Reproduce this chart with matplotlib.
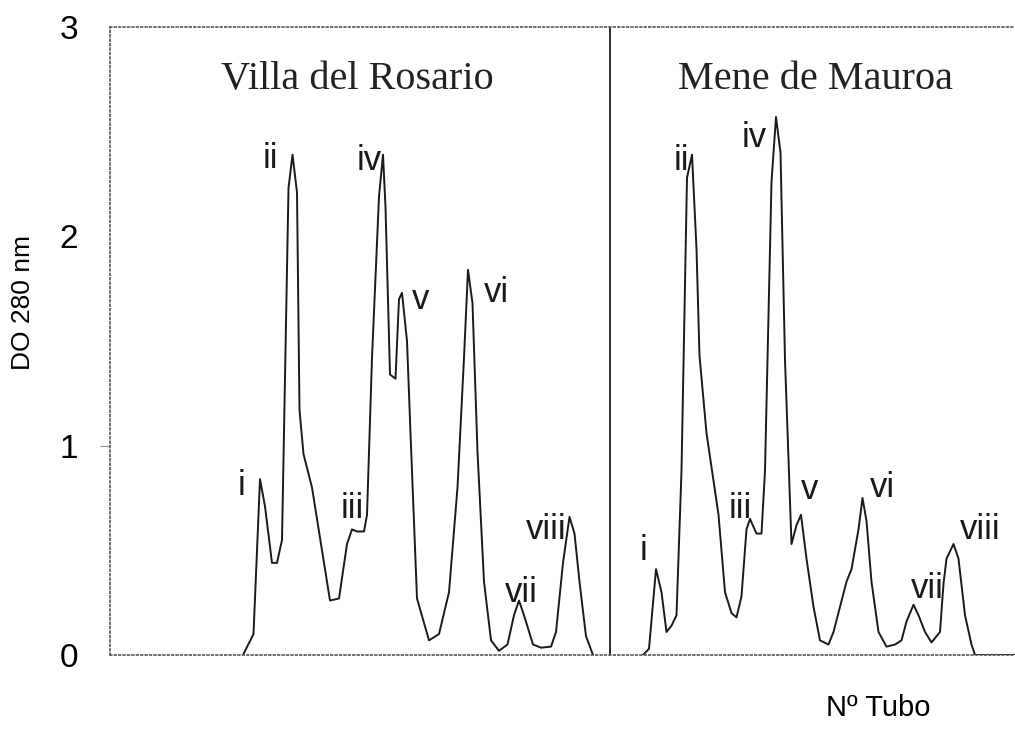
import matplotlib.pyplot as plt

# Nº de tubo (eje x) y DO 280 nm, Villa del Rosario
x_vr = [26.6, 28.7, 30, 31, 32.4, 33.4, 34.4, 35.7, 36.5, 37.4, 37.9, 38.7, 40.4,
        44, 45.8, 47.4, 48.4, 49.4, 50.8, 51.4, 52.4, 53.8, 54.6, 55.1, 56, 57.1,
        57.8, 58.4, 59.4, 60.1, 61.4, 63.8, 65.8, 67.8, 69.5, 70.8, 71.6, 72.5,
        73.5, 74.8, 76.2, 77.8, 79.5, 80.8, 81.8, 82.8, 84.6, 86.2, 88.2, 89.2,
        90.6, 91.9, 92.9, 93.9, 95.2, 96.6]
y_vr = [0, 0.10, 0.84, 0.71, 0.44, 0.44, 0.55, 2.23, 2.39, 2.21, 1.17, 0.96, 0.80,
        0.26, 0.27, 0.53, 0.60, 0.59, 0.59, 0.67, 1.42, 2.19, 2.39, 2.14, 1.34, 1.32,
        1.70, 1.73, 1.50, 1.06, 0.27, 0.07, 0.10, 0.30, 0.80, 1.42, 1.84, 1.68,
        0.97, 0.35, 0.07, 0.02, 0.05, 0.19, 0.26, 0.19, 0.05, 0.035, 0.04, 0.11,
        0.44, 0.66, 0.58, 0.35, 0.09, 0]

# Mene de Mauroa
x_mm = [106.6, 107.8, 109.2, 110.3, 111.3, 112.3, 113.3, 114.3, 115.4, 116.4,
        117.3, 117.9, 119.3, 121.7, 123, 124.3, 125.3, 126.3, 127.3, 128, 129.3,
        130.3, 131, 132.3, 133.2, 134.1, 135, 136.3, 137.3, 138.2, 139.3, 140.7,
        142, 143.7, 144.7, 146, 147.3, 148.3, 149.7, 150.5, 151.3, 152.3, 153.7,
        155.3, 157, 158.3, 159.3, 160.7, 161.7, 163, 164.3, 166, 166.7, 167.3,
        168.7, 169.7, 171, 172.3, 173, 181]
y_mm = [0, 0.03, 0.41, 0.30, 0.11, 0.14, 0.19, 0.88, 2.28, 2.39, 1.94, 1.43, 1.06,
        0.67, 0.30, 0.20, 0.18, 0.28, 0.60, 0.65, 0.58, 0.58, 0.88, 2.26, 2.57,
        2.40, 1.41, 0.53, 0.62, 0.67, 0.46, 0.23, 0.07, 0.05, 0.11, 0.23, 0.35,
        0.41, 0.60, 0.75, 0.64, 0.35, 0.11, 0.04, 0.05, 0.07, 0.16, 0.24, 0.19,
        0.11, 0.06, 0.11, 0.34, 0.46, 0.53, 0.46, 0.19, 0.05, 0, 0]

pico = ['i', 'ii', 'iii', 'iv', 'v', 'vi', 'vii', 'viii']
lab_x_vr = [26.4, 32, 48.4, 51.8, 62.2, 77.2, 82.2, 87.2]
lab_y_vr = [0.81, 2.37, 0.70, 2.36, 1.70, 1.73, 0.30, 0.60]
lab_x_mm = [106.6, 114.2, 126, 128.8, 140, 154.4, 163.4, 174]
lab_y_mm = [0.50, 2.36, 0.70, 2.47, 0.79, 0.80, 0.32, 0.60]

fig = plt.figure(figsize=(10.15, 7.39), dpi=100)
ax = fig.add_axes([110 / 1015, 1 - 655 / 739, 1 - 110 / 1015, (655 - 27) / 739])

ax.plot(x_vr, y_vr, color='#1a1a1a', lw=1.4)
ax.plot(x_mm, y_mm, color='#1a1a1a', lw=1.4)
ax.axvline(100, color='#1a1a1a', lw=1.3)

for t, xx, yy in zip(pico, lab_x_vr, lab_y_vr):
    ax.text(xx, yy, t, fontsize=25, family='Liberation Sans', ha='center', va='center',
            color='#1a1a1a')
for t, xx, yy in zip(pico, lab_x_mm, lab_y_mm):
    ax.text(xx, yy, t, fontsize=25, family='Liberation Sans', ha='center', va='center',
            color='#1a1a1a')

ax.text(49.5, 2.75, 'Villa del Rosario', fontsize=29, family='Liberation Serif',
        ha='center', va='center', color='#222222')
ax.text(141, 2.75, 'Mene de Mauroa', fontsize=29, family='Liberation Serif',
        ha='center', va='center', color='#222222')

ax.set_xlim(0, 181)
ax.set_ylim(0, 3)
ax.set_yticks([0, 1, 2, 3])
ax.set_yticklabels(['0', '1', '2', '3'], fontsize=24, family='Liberation Sans')
ax.set_xticks([])
ax.tick_params(axis='y', length=7, color='#b08080', pad=16)
# only the tick at 1 is visible in the scan
for i, tk in enumerate(ax.yaxis.get_major_ticks()):
    if i != 1:
        tk.tick1line.set_visible(False)

for s in ['top', 'left', 'bottom']:
    ax.spines[s].set_linestyle(':')
    ax.spines[s].set_color('#555555')
    ax.spines[s].set_linewidth(1.2)
ax.spines['right'].set_visible(False)

fig.text(23 / 1015, 1 - 302 / 739, 'DO 280 nm', rotation=90, fontsize=19,
         family='Liberation Sans', ha='center', va='center')
fig.text(878 / 1015, 1 - 708 / 739, 'Nº Tubo', fontsize=21,
         family='Liberation Sans', ha='center', va='center')

fig.savefig('out.png', dpi=100)
